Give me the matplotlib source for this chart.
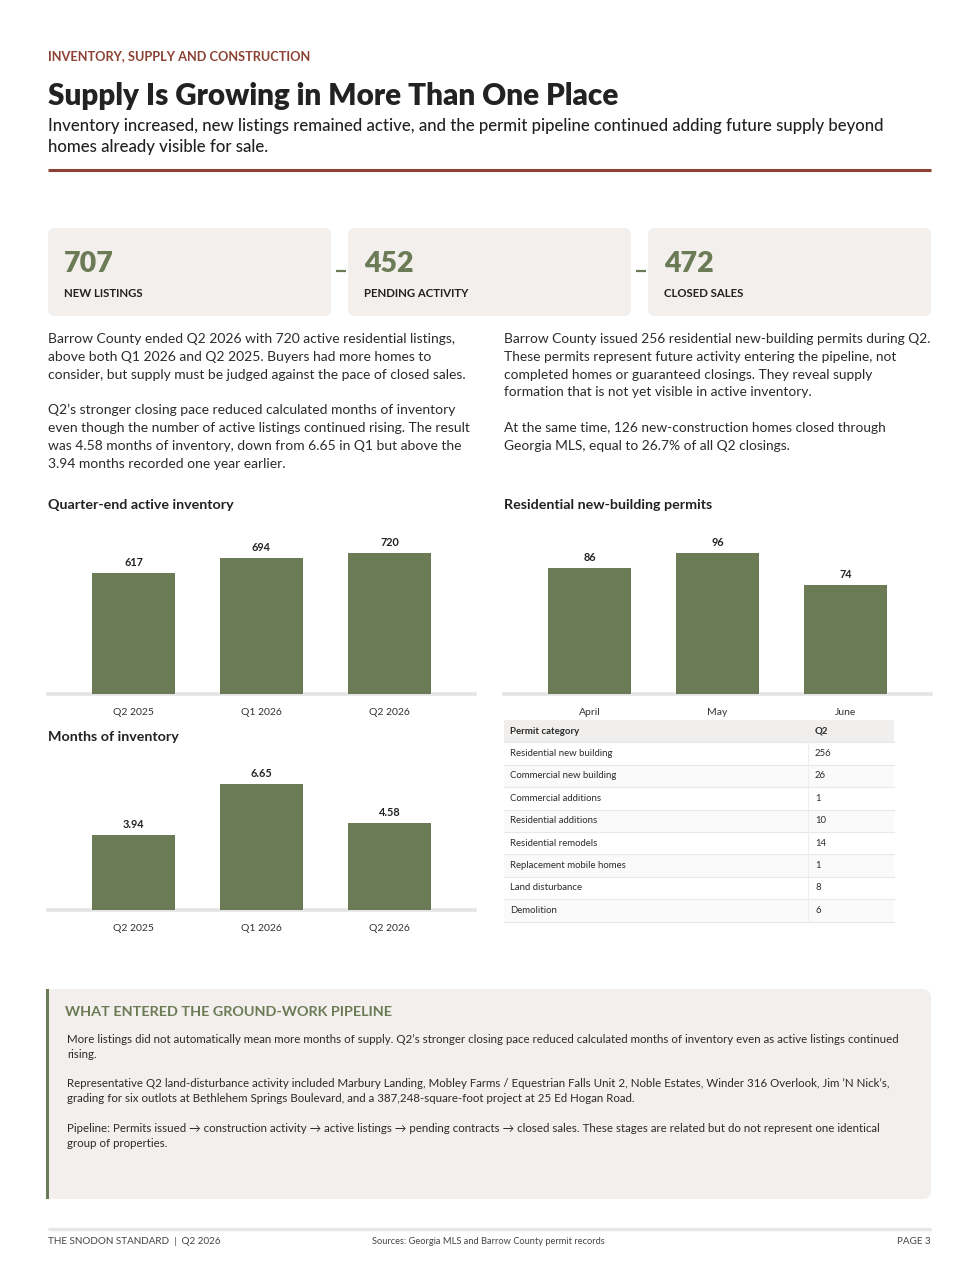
import matplotlib
matplotlib.use("Agg")
import matplotlib.pyplot as plt
from matplotlib.patches import FancyBboxPatch, Rectangle

plt.rcParams["font.family"] = ["Lato", "DejaVu Sans"]

W, H = 980, 1268
GREEN = "#6b7b55"
RUST = "#8c4232"
CARD = "#f2efed"
DARK = "#222222"
BODY = "#2b2b2b"

# ---- data ----
kpi_values = ["707", "452", "472"]
kpi_labels = ["NEW LISTINGS", "PENDING ACTIVITY", "CLOSED SALES"]

inv_quarters = ["Q2 2025", "Q1 2026", "Q2 2026"]
inv_active = [617, 694, 720]
inv_months = [3.94, 6.65, 4.58]

permit_months = ["April", "May", "June"]
permit_counts = [86, 96, 74]

permit_categories = ["Residential new building", "Commercial new building", "Commercial additions",
                     "Residential additions", "Residential remodels", "Replacement mobile homes",
                     "Land disturbance", "Demolition"]
permit_q2 = [256, 26, 1, 10, 14, 1, 8, 6]

left_paras = [
    ["Barrow County ended Q2 2026 with 720 active residential listings,",
     "above both Q1 2026 and Q2 2025. Buyers had more homes to",
     "consider, but supply must be judged against the pace of closed sales."],
    ["Q2\u2019s stronger closing pace reduced calculated months of inventory",
     "even though the number of active listings continued rising. The result",
     "was 4.58 months of inventory, down from 6.65 in Q1 but above the",
     "3.94 months recorded one year earlier."],
]
right_paras = [
    ["Barrow County issued 256 residential new-building permits during Q2.",
     "These permits represent future activity entering the pipeline, not",
     "completed homes or guaranteed closings. They reveal supply",
     "formation that is not yet visible in active inventory."],
    ["At the same time, 126 new-construction homes closed through",
     "Georgia MLS, equal to 26.7% of all Q2 closings."],
]
callout_paras = [
    ["More listings did not automatically mean more months of supply. Q2\u2019s stronger closing pace reduced calculated months of inventory even as active listings continued",
     "rising."],
    ["Representative Q2 land-disturbance activity included Marbury Landing, Mobley Farms / Equestrian Falls Unit 2, Noble Estates, Winder 316 Overlook, Jim \u2019N Nick\u2019s,",
     "grading for six outlots at Bethlehem Springs Boulevard, and a 387,248-square-foot project at 25 Ed Hogan Road."],
    ["Pipeline: Permits issued \u2192 construction activity \u2192 active listings \u2192 pending contracts \u2192 closed sales. These stages are related but do not represent one identical",
     "group of properties."],
]

fig = plt.figure(figsize=(W / 100, H / 100), dpi=100)
fig.patch.set_facecolor("white")
bg = fig.add_axes([0, 0, 1, 1])
bg.set_xlim(0, W)
bg.set_ylim(H, 0)
bg.axis("off")


def px_axes(x0, y0, x1, y1):
    return fig.add_axes([x0 / W, 1 - y1 / H, (x1 - x0) / W, (y1 - y0) / H])


# ---- header ----
bg.text(48, 56, "INVENTORY, SUPPLY AND CONSTRUCTION", fontsize=9.2, fontweight="bold",
        color=RUST, va="center")
bg.text(48, 96, "Supply Is Growing in More Than One Place", fontsize=21.3, fontweight="heavy",
        color=DARK, va="center")
bg.text(48, 126, "Inventory increased, new listings remained active, and the permit pipeline continued adding future supply beyond",
        fontsize=12.1, fontweight="medium", color=DARK, va="center")
bg.text(48, 147, "homes already visible for sale.", fontsize=12.1, fontweight="medium", color=DARK,
        va="center")
bg.plot([48, 931], [170, 170], color=RUST, lw=2.2, solid_capstyle="butt")

# ---- KPI cards ----
card_x = [48, 348, 648]
for i, (val, lab) in enumerate(zip(kpi_values, kpi_labels)):
    x0 = card_x[i]
    bg.add_patch(FancyBboxPatch((x0, 228), 283, 88, boxstyle="round,pad=0,rounding_size=7",
                                fc=CARD, ec="none"))
    bg.text(x0 + 16, 264, val, fontsize=20.5, fontweight="heavy", color=GREEN, va="center")
    bg.text(x0 + 16, 293.5, lab, fontsize=8.2, fontweight="bold", color=DARK, va="center")
    if i > 0:
        bg.plot([x0 - 12, x0 - 2], [271, 271], color=GREEN, lw=1.6, solid_capstyle="butt")


# ---- paragraphs ----
def para_block(x, y, paras, step, gap, size, color=BODY):
    for lines in paras:
        for ln in lines:
            bg.text(x, y, ln, fontsize=size, color=color, va="center")
            y += step
        y += gap
    return y


para_block(48, 339, left_paras, 17.8, 17.8, 9.96)
para_block(504, 339, right_paras, 17.8, 17.8, 9.92)


# ---- bar charts ----
def bar_chart(x0, y_top, y_base, title, title_y, cats, vals, fmt, px_per_max):
    bg.text(x0, title_y, title, fontsize=10.3, fontweight="bold", color=DARK, va="center")
    ax = px_axes(x0, y_top, x0 + 427, y_base)
    ax.bar(range(len(vals)), vals, width=0.65, color=GREEN, zorder=2)
    ax.set_xlim(-0.668, 2.668)
    ax.set_ylim(0, max(vals) * (y_base - y_top) / px_per_max)
    ax.axhline(0, color="#e4e4e4", lw=2.6, zorder=1, clip_on=False)
    for i, v in enumerate(vals):
        ax.annotate(fmt(v), (i, v), xytext=(0, 3.5), textcoords="offset points", ha="center",
                    va="bottom", fontsize=7.8, fontweight="bold", color=DARK)
    ax.set_xticks(range(len(cats)))
    ax.set_xticklabels(cats, fontsize=7.5, color="#333333")
    ax.tick_params(axis="x", length=0, pad=10)
    ax.set_yticks([])
    for s in ax.spines.values():
        s.set_visible(False)
    ax.patch.set_alpha(0)
    return ax


bar_chart(48, 530, 694, "Quarter-end active inventory", 505,
          inv_quarters, inv_active, lambda v: f"{v:,}", 141)
bar_chart(504, 530, 694, "Residential new-building permits", 505,
          permit_months, permit_counts, lambda v: f"{v}", 141)
bar_chart(48, 760, 910, "Months of inventory", 737, inv_quarters, inv_months,
          lambda v: f"{v:.2f}", 126)

# ---- permit table ----
tx0, tx1, tdiv = 504, 894, 808
row_h = 22.4
ty = 720
rows = [("Permit category", "Q2")] + [(c, str(v)) for c, v in zip(permit_categories, permit_q2)]
for r, (c, v) in enumerate(rows):
    y0 = ty + r * row_h
    fc = "#f1efed" if r == 0 else ("white" if r % 2 == 1 else "#fafafa")
    bg.add_patch(Rectangle((tx0, y0), tx1 - tx0, row_h, fc=fc, ec="none"))
    bg.plot([tx0, tx1], [y0 + row_h, y0 + row_h], color="#e8e8e8", lw=0.8)
    w = "bold" if r == 0 else "normal"
    bg.text(tx0 + 6, y0 + row_h / 2, c, fontsize=6.95, fontweight=w, color="#2b2b2b", va="center")
    bg.text(tdiv + 7, y0 + row_h / 2, v, fontsize=6.95, fontweight=w, color="#2b2b2b", va="center")
bg.plot([tdiv, tdiv], [ty + row_h, ty + 9 * row_h], color="#eeeeee", lw=0.8)

# ---- callout box ----
bg.add_patch(FancyBboxPatch((46, 989), 885, 210, boxstyle="round,pad=0,rounding_size=9",
                            fc=CARD, ec="none"))
bg.add_patch(Rectangle((46, 989), 20, 210, fc=CARD, ec="none"))
bg.add_patch(Rectangle((46, 989), 3, 210, fc=GREEN, ec="none"))
bg.text(65, 1012, "WHAT ENTERED THE GROUND-WORK PIPELINE", fontsize=10.35, fontweight="bold",
        color=GREEN, va="center")
para_block(67, 1039.5, callout_paras, 14.8, 14.8, 8.31)

# ---- footer ----
bg.plot([48, 931], [1229, 1229], color="#e6e6e6", lw=2.4, solid_capstyle="butt")
bg.text(48, 1241, "THE SNODON STANDARD  |  Q2 2026", fontsize=7.1, color="#444444", va="center")
bg.text(372, 1242, "Sources: Georgia MLS and Barrow County permit records", fontsize=6.65,
        color="#444444", va="center")
bg.text(931, 1241, "PAGE 3", fontsize=7.1, color="#444444", va="center", ha="right")

fig.savefig("out.png", dpi=100, facecolor="white")
